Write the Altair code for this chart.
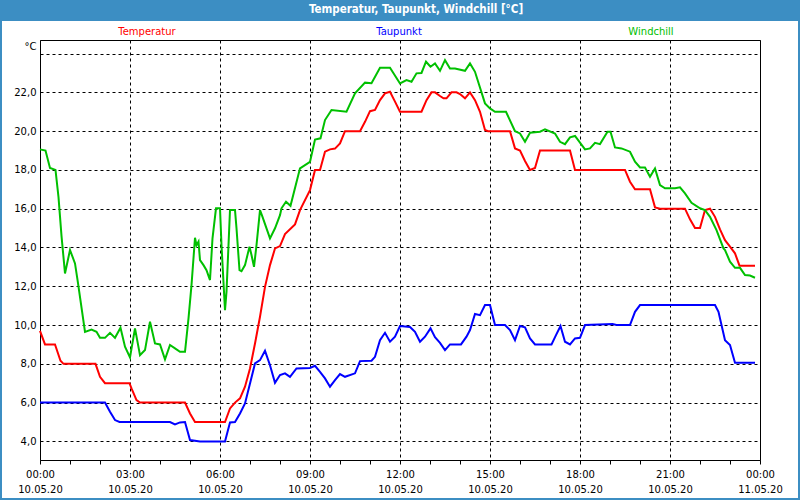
import altair as alt
import pandas as pd

SERIES = ["Temperatur", "Taupunkt", "Windchill"]
COLORS = ["#ff0000", "#0000ff", "#00c000"]
TITLE = "Temperatur, Taupunkt, Windchill [°C]"

# minutes since 10.05.20 00:00
temp_min = [0, 10, 30, 41, 47, 111, 120, 130, 179, 183, 193, 200, 290, 300, 310, 370,
            380, 390, 400, 410, 420, 430, 440, 450, 460, 470, 480, 490, 510, 520, 540,
            550, 560, 570, 580, 590, 600, 610, 640, 650, 660, 670, 680, 690, 700, 710,
            720, 763, 773, 783, 790, 800, 807, 813, 823, 833, 840, 850, 860, 870, 880,
            890, 896, 940, 950, 960, 970, 980, 990, 1000, 1060, 1070, 1170, 1180, 1190,
            1220, 1230, 1240, 1290, 1300, 1310, 1320, 1330, 1340, 1350, 1360, 1370,
            1380, 1390, 1399, 1430]
temp_val = [9.7, 9.0, 9.0, 8.16, 8.0, 8.0, 7.33, 7.0, 7.0, 6.73, 6.13, 6.0, 6.0, 5.44,
            5.0, 5.0, 5.7, 6.0, 6.22, 6.82, 7.76, 9.05, 10.43, 11.97, 13.09, 13.95,
            14.07, 14.69, 15.19, 15.93, 16.96, 18.0, 18.0, 18.94, 19.06, 19.1, 19.37,
            20.0, 20.0, 20.48, 21.03, 21.09, 21.6, 21.95, 22.03, 21.52, 21.0, 21.0,
            21.6, 22.0, 22.0, 21.81, 21.69, 21.69, 22.0, 22.0, 21.91, 21.69, 22.0,
            21.6, 21.0, 20.06, 20.0, 20.0, 19.11, 19.0, 18.46, 18.0, 18.1, 19.0, 19.0,
            18.0, 18.0, 17.39, 17.0, 17.0, 16.07, 16.0, 16.0, 15.45, 15.0, 15.0, 15.93,
            16.0, 15.58, 14.93, 14.38, 14.04, 13.7, 13.06, 13.06]

dew_min = [0, 130, 140, 150, 159, 260, 270, 280, 290, 300, 320, 370, 380, 390, 400,
           410, 420, 430, 440, 450, 460, 470, 480, 490, 500, 513, 540, 550, 560, 570,
           580, 590, 600, 610, 630, 640, 663, 670, 680, 690, 700, 710, 720, 740, 750,
           760, 770, 781, 790, 800, 810, 820, 842, 853, 860, 870, 880, 890, 900, 910,
           930, 940, 950, 960, 970, 980, 990, 1023, 1032, 1041, 1050, 1060, 1070, 1080,
           1090, 1145, 1153, 1180, 1190, 1200, 1350, 1357, 1363, 1370, 1380, 1390, 1430]
dew_val = [6.0, 6.0, 5.53, 5.1, 5.0, 5.0, 4.88, 4.98, 5.0, 4.07, 4.0, 4.0, 4.98, 5.0,
           5.44, 5.96, 6.99, 8.02, 8.19, 8.67, 7.93, 7.02, 7.42, 7.51, 7.33, 7.76, 7.79,
           7.9, 7.59, 7.25, 6.82, 7.16, 7.47, 7.33, 7.51, 8.14, 8.16, 8.36, 9.22, 9.6,
           9.14, 9.4, 9.95, 9.9, 9.65, 9.14, 9.4, 9.83, 9.37, 9.08, 8.71, 9.0, 9.0, 9.4,
           9.74, 10.57, 10.51, 11.03, 11.03, 10.0, 10.0, 9.74, 9.22, 9.95, 9.88, 9.31,
           9.0, 9.0, 9.48, 9.95, 9.14, 9.0, 9.31, 9.34, 10.0, 10.05, 10.0, 10.0, 10.68,
           11.03, 11.03, 10.68, 10.0, 9.22, 8.97, 8.05, 8.05]

wc_min = [0, 11, 20, 31, 37, 43, 50, 60, 70, 76, 90, 103, 113, 120, 130, 140, 150, 161,
          170, 180, 190, 200, 210, 220, 230, 240, 250, 260, 270, 280, 290, 297, 303,
          310, 313, 317, 320, 327, 333, 340, 345, 352, 360, 363, 368, 370, 373, 377,
          380, 390, 393, 399, 403, 410, 419, 423, 428, 433, 440, 445, 460, 470, 480,
          483, 492, 501, 520, 540, 550, 561, 570, 583, 613, 630, 650, 663, 680, 700,
          720, 733, 743, 753, 763, 772, 781, 790, 800, 810, 820, 830, 850, 860, 870,
          890, 900, 910, 932, 950, 960, 970, 980, 1000, 1010, 1030, 1040, 1050, 1060,
          1070, 1090, 1100, 1110, 1120, 1135, 1141, 1150, 1163, 1180, 1190, 1200, 1210,
          1220, 1230, 1240, 1250, 1270, 1280, 1290, 1303, 1320, 1330, 1340, 1353, 1367,
          1370, 1380, 1390, 1400, 1410, 1420, 1430]
wc_val = [19.06, 19.0, 18.1, 18.0, 16.6, 14.6, 12.66, 13.87, 13.18, 12.16, 9.65, 9.77,
          9.65, 9.34, 9.34, 9.6, 9.34, 9.86, 8.88, 8.33, 9.83, 8.45, 8.71, 10.17, 9.05,
          9.0, 8.23, 8.97, 8.8, 8.62, 8.62, 10.34, 12.06, 14.5, 14.12, 14.3, 13.35,
          13.09, 12.83, 12.32, 14.47, 16.02, 16.02, 14.12, 11.71, 10.77, 11.71, 14.12,
          15.93, 15.93, 14.99, 12.83, 12.78, 13.09, 14.04, 13.61, 13.0, 14.12, 15.93,
          15.58, 14.47, 14.99, 15.67, 16.02, 16.36, 16.15, 18.08, 18.42, 19.57, 19.63,
          20.57, 21.09, 21.0, 21.95, 22.5, 22.47, 23.27, 23.27, 22.46, 22.63, 22.55,
          22.98, 23.0, 23.58, 23.32, 23.49, 23.11, 23.66, 23.23, 23.23, 23.11, 23.49,
          23.06, 21.43, 21.17, 21.0, 21.0, 20.0, 19.88, 19.45, 19.92, 19.97, 20.09,
          19.88, 19.45, 19.33, 19.68, 19.75, 19.06, 19.11, 19.4, 19.33, 19.97, 19.97,
          19.16, 19.11, 18.94, 18.42, 18.13, 18.12, 17.65, 18.08, 17.22, 17.05, 17.05,
          17.1, 16.79, 16.3, 16.02, 15.93, 15.58, 14.9, 13.95, 13.87, 13.27, 12.95,
          12.95, 12.58, 12.55, 12.44]

x_ticks = list(range(0, 1441, 60))
y_ticks = list(range(4, 25, 2))

rows = []
for name, mins, vals in [(SERIES[0], temp_min, temp_val),
                         (SERIES[1], dew_min, dew_val),
                         (SERIES[2], wc_min, wc_val)]:
    rows += [{"Serie": name, "Minute": m, "Wert": v} for m, v in zip(mins, vals)]
df = pd.DataFrame(rows)

FONT = "DejaVu Sans"

x_label = ("datum.value % 180 == 0 ? ["
           "(floor(datum.value/60) % 24 < 10 ? '0' : '') + (floor(datum.value/60) % 24) + ':00', "
           "datum.value >= 1440 ? '11.05.20' : '10.05.20'] : ''")
y_label = "datum.value >= 24 ? '' : replace(format(datum.value, '.1f'), '.', ',')"

x_enc = alt.X("Minute:Q",
              scale=alt.Scale(domain=[0, 1440], nice=False, zero=False),
              axis=alt.Axis(values=x_ticks, title=None, labelExpr=x_label,
                            grid=True, gridColor="black", gridDash=[3, 3], gridWidth=1,
                            gridOpacity={"condition": {"test": "datum.value % 180 == 0", "value": 1}, "value": 0},
                            ticks=True, tickSize=4, tickColor="black", domain=True,
                            domainColor="black", labelOverlap=False, labelFlush=False,
                            labelFont=FONT, labelFontSize=10, labelColor="black",
                            labelPadding=5, labelLineHeight=15, labelBaseline="top"))
y_enc = alt.Y("Wert:Q",
              scale=alt.Scale(domain=[3.04, 24.7], nice=False, zero=False),
              axis=alt.Axis(values=y_ticks, labelExpr=y_label, title="°C",
                            titleAngle=0, titleAlign="right", titleBaseline="middle",
                            titleX=-4, titleY=6, titleFont=FONT, titleFontSize=10,
                            titleFontWeight="normal", titleColor="black",
                            grid=True, gridColor="black", gridDash=[3, 3], gridWidth=1,
                            ticks=False, domain=False, labelOverlap=False,
                            labelFont=FONT, labelFontSize=10, labelColor="black",
                            labelPadding=4))

lines = alt.Chart(df).mark_line(strokeWidth=2, interpolate="linear").encode(
    x=x_enc, y=y_enc,
    color=alt.Color("Serie:N", scale=alt.Scale(domain=SERIES, range=COLORS), legend=None),
    detail="Serie:N",
)

one = alt.Data(values=[{"k": 1}])
title_bar = alt.Chart(one).mark_rect(color="#3c8ec3").encode(
    x=alt.value(-40), x2=alt.value(760), y=alt.value(-40), y2=alt.value(-20))
border = alt.Chart(one).mark_rect(fill=None, stroke="#3c8ec3", strokeWidth=2).encode(
    x=alt.value(-39), x2=alt.value(759), y=alt.value(-20), y2=alt.value(459))
title_txt = alt.Chart(one).mark_text(text=TITLE, color="white", font="DejaVu Sans Condensed",
                                     fontWeight="bold", fontSize=11.5, align="center",
                                     baseline="middle").encode(
    x=alt.value(376), y=alt.value(-30))

legend_pos = [107, 359, 611]
legend = [alt.Chart(one).mark_text(text=s, color=c, font=FONT, fontSize=10,
                                   align="center", baseline="middle").encode(
    x=alt.value(p), y=alt.value(-8)) for s, c, p in zip(SERIES, COLORS, legend_pos)]

chart = alt.layer(title_bar, border, lines, title_txt, *legend).properties(
    width=720, height=420,
    padding={"left": 40, "top": 40, "right": 40, "bottom": 40},
    autosize=alt.AutoSizeParams(type="none"),
    background="white",
).configure_view(stroke="black", strokeWidth=1)

chart.save("out.html", embed_options={"renderer": "svg", "actions": False})
